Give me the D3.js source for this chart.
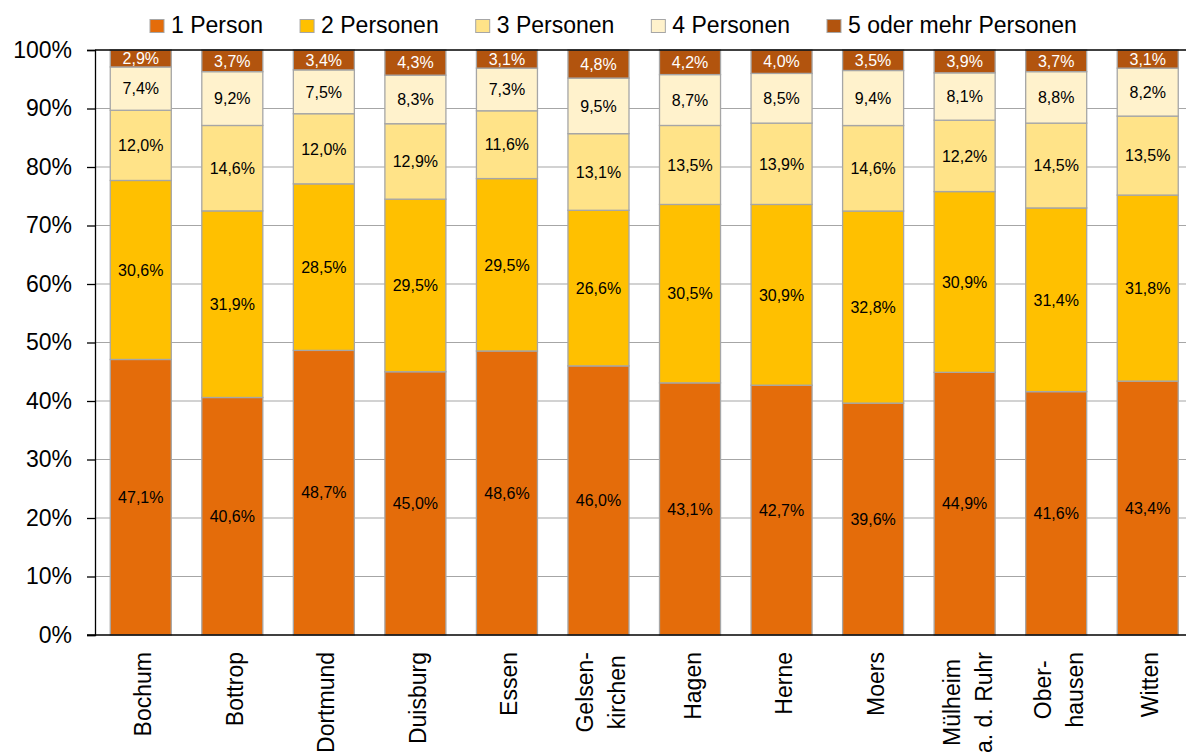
<!DOCTYPE html>
<html lang="de">
<head>
<meta charset="utf-8">
<script src="https://cdn.jsdelivr.net/npm/d3@7"></script>
<style>
  html, body { margin: 0; padding: 0; background: #fff; }
  svg { display: block; font-family: "Liberation Sans", Arial, sans-serif; }
</style>
</head>
<body>
<svg id="chart" width="1186" height="756"></svg>
<script>
// Städte (Zeilenumbruch mit "\n")
const categories = ["Bochum", "Bottrop", "Dortmund", "Duisburg", "Essen", "Gelsen-\nkirchen",
  "Hagen", "Herne", "Moers", "Mülheim\na. d. Ruhr", "Ober-\nhausen", "Witten"];

// Haushaltsgrößen (Anteile in %)
const seriesNames = ["1 Person", "2 Personen", "3 Personen", "4 Personen", "5 oder mehr Personen"];
const onePerson   = [47.1, 40.6, 48.7, 45.0, 48.6, 46.0, 43.1, 42.7, 39.6, 44.9, 41.6, 43.4];
const twoPersons  = [30.6, 31.9, 28.5, 29.5, 29.5, 26.6, 30.5, 30.9, 32.8, 30.9, 31.4, 31.8];
const threePersons= [12.0, 14.6, 12.0, 12.9, 11.6, 13.1, 13.5, 13.9, 14.6, 12.2, 14.5, 13.5];
const fourPersons = [ 7.4,  9.2,  7.5,  8.3,  7.3,  9.5,  8.7,  8.5,  9.4,  8.1,  8.8,  8.2];
const fivePlus    = [ 2.9,  3.7,  3.4,  4.3,  3.1,  4.8,  4.2,  4.0,  3.5,  3.9,  3.7,  3.1];

const yTicks = [0, 0.1, 0.2, 0.3, 0.4, 0.5, 0.6, 0.7, 0.8, 0.9, 1.0];

const colors = ["#E46C0A", "#FFC000", "#FFE388", "#FFF2CC", "#B2540E"];
const labelColors = ["#000", "#000", "#000", "#000", "#fff"];

const seriesValues = [onePerson, twoPersons, threePersons, fourPersons, fivePlus];
const rows = categories.map((c, i) => {
  const r = { city: c };
  seriesNames.forEach((s, k) => r[s] = seriesValues[k][i]);
  return r;
});

const svg = d3.select("#chart");
const plotLeft = 95, plotRight = 1193.5, plotTop = 50, plotBottom = 635;

const x = d3.scaleBand().domain(categories).range([plotLeft, plotRight]).paddingInner(1/3).paddingOuter(1/6);
const y = d3.scaleLinear().domain([0, 1]).range([plotBottom, plotTop]);

const de = d3.formatLocale({ decimal: ",", thousands: ".", grouping: [3], currency: ["", " €"] });
const fmtVal = de.format(".1f");

// Gitterlinien
svg.append("g")
  .selectAll("line")
  .data(yTicks.filter(t => t > 0 && t < 1))
  .join("line")
  .attr("x1", plotLeft).attr("x2", 1186)
  .attr("y1", d => y(d)).attr("y2", d => y(d))
  .attr("stroke", "#a6a6a6").attr("stroke-width", 1.2);

// Gestapelte Säulen (100 %)
const stack = d3.stack().keys(seriesNames).offset(d3.stackOffsetExpand);
const stacked = stack(rows);

const layers = svg.append("g")
  .selectAll("g")
  .data(stacked)
  .join("g")
  .attr("fill", (d, i) => colors[i]);

layers.selectAll("rect")
  .data(d => d)
  .join("rect")
  .attr("x", d => x(d.data.city))
  .attr("width", x.bandwidth())
  .attr("y", d => y(d[1]))
  .attr("height", d => y(d[0]) - y(d[1]))
  .attr("stroke", "#a6a6a6")
  .attr("stroke-width", 1.3);

// Werte in den Segmenten
layers.each(function (layer, li) {
  d3.select(this).selectAll("text")
    .data(layer)
    .join("text")
    .attr("x", d => x(d.data.city) + x.bandwidth() / 2)
    .attr("y", d => (y(d[0]) + y(d[1])) / 2)
    .attr("dy", "0.36em")
    .attr("text-anchor", "middle")
    .attr("font-size", 16)
    .attr("fill", labelColors[li])
    .text(d => fmtVal(d.data[layer.key]) + "%");
});

// Achsenlinien und Rahmen
svg.append("line").attr("x1", plotLeft).attr("x2", 1186).attr("y1", plotTop).attr("y2", plotTop)
  .attr("stroke", "#000").attr("stroke-width", 1.3);
svg.append("line").attr("x1", 87).attr("x2", 1186).attr("y1", plotBottom).attr("y2", plotBottom)
  .attr("stroke", "#000").attr("stroke-width", 1.3);

// Y-Achse
const yAxis = d3.axisLeft(y).tickValues(yTicks).tickSize(8).tickPadding(15)
  .tickFormat(d => Math.round(d * 100) + "%");
const gy = svg.append("g").attr("transform", `translate(${plotLeft},0)`).call(yAxis);
gy.select(".domain").attr("stroke", "#000").attr("stroke-width", 1.3);
gy.selectAll(".tick line").attr("stroke", "#000").attr("stroke-width", 1.3);
gy.selectAll(".tick text").attr("font-size", 23).attr("fill", "#000")
  .attr("font-family", "'Liberation Sans', Arial, sans-serif");

// Kategorienbeschriftung (90° gedreht)
const labelTop = 652;
categories.forEach(c => {
  const lines = c.split("\n");
  const cx = x(c) + x.bandwidth() / 2;
  if (lines.length === 1) {
    svg.append("text")
      .attr("transform", `translate(${cx + 10.5},${labelTop}) rotate(-90)`)
      .attr("text-anchor", "end")
      .attr("font-size", 23)
      .text(lines[0]);
  } else {
    const offs = [-5, 27];
    const nodes = lines.map(l => svg.append("text")
      .attr("font-size", 23)
      .attr("text-anchor", "middle")
      .text(l));
    const maxLen = d3.max(nodes, n => n.node().getComputedTextLength());
    nodes.forEach((n, k) => n.attr("transform",
      `translate(${cx + offs[k]},${labelTop + maxLen / 2}) rotate(-90)`));
  }
});

// Legende
const legend = svg.append("g");
let lx = 150;
seriesNames.forEach((s, i) => {
  legend.append("rect")
    .attr("x", lx).attr("y", 19.5).attr("width", 14).attr("height", 13)
    .attr("fill", colors[i]).attr("stroke", "#a6a6a6").attr("stroke-width", 1);
  const t = legend.append("text")
    .attr("x", lx + 21).attr("y", 32.5)
    .attr("font-size", 23)
    .text(s);
  lx += 21 + t.node().getComputedTextLength() + 37;
});
</script>
</body>
</html>
